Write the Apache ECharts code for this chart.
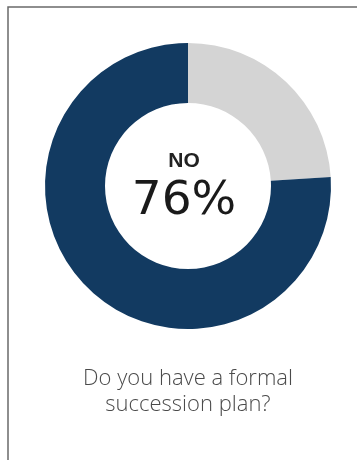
<!DOCTYPE html>
<html>
<head>
<meta charset="utf-8">
<script src="https://cdn.jsdelivr.net/npm/echarts@6/dist/echarts.min.js"></script>
<style>
  html, body { margin: 0; padding: 0; background: #fff; }
  #chart { width: 357px; height: 460px; }
</style>
</head>
<body>
<div id="chart"></div>
<script>
// Survey answers and their shares (percent)
const answers = ['YES', 'NO'];
const shares = [24, 76];
const sliceColors = ['#d4d4d4', '#123a61'];
const highlighted = 1; // answer shown in the middle of the ring
const question = ['Do you have a formal', 'succession plan?'];

const chart = echarts.init(document.getElementById('chart'), null, { renderer: 'canvas' });

chart.setOption({
  animation: false,
  backgroundColor: '#ffffff',
  graphic: [
    {
      type: 'rect',
      shape: { x: 8, y: 7, width: 420, height: 520 },
      style: { fill: 'none', stroke: '#6a6a6a', lineWidth: 1.5 },
      silent: true
    },
    {
      type: 'text',
      x: 184,
      y: 151,
      style: {
        text: answers[highlighted],
        font: 'bold 21px "Liberation Sans", Arial, sans-serif',
        fill: '#222222',
        textAlign: 'center',
        textVerticalAlign: 'top'
      }
    },
    {
      type: 'text',
      x: 184,
      y: 178,
      style: {
        text: shares[highlighted] + '%',
        font: '47px "DejaVu Sans", sans-serif',
        fill: '#1a1a1a',
        textAlign: 'center',
        textVerticalAlign: 'top'
      }
    },
    {
      type: 'text',
      x: 188,
      y: 366,
      style: {
        text: question.join('\n'),
        font: '300 22px "Open Sans", sans-serif',
        lineHeight: 26,
        fill: '#4a4a4a',
        textAlign: 'center',
        textVerticalAlign: 'top'
      }
    }
  ],
  series: [
    {
      type: 'pie',
      center: [188, 186],
      radius: [83, 143],
      startAngle: 90,
      clockwise: true,
      silent: true,
      label: { show: false },
      labelLine: { show: false },
      itemStyle: { borderWidth: 0 },
      data: answers.map((name, i) => ({
        name,
        value: shares[i],
        itemStyle: { color: sliceColors[i] }
      }))
    }
  ]
});
</script>
</body>
</html>
